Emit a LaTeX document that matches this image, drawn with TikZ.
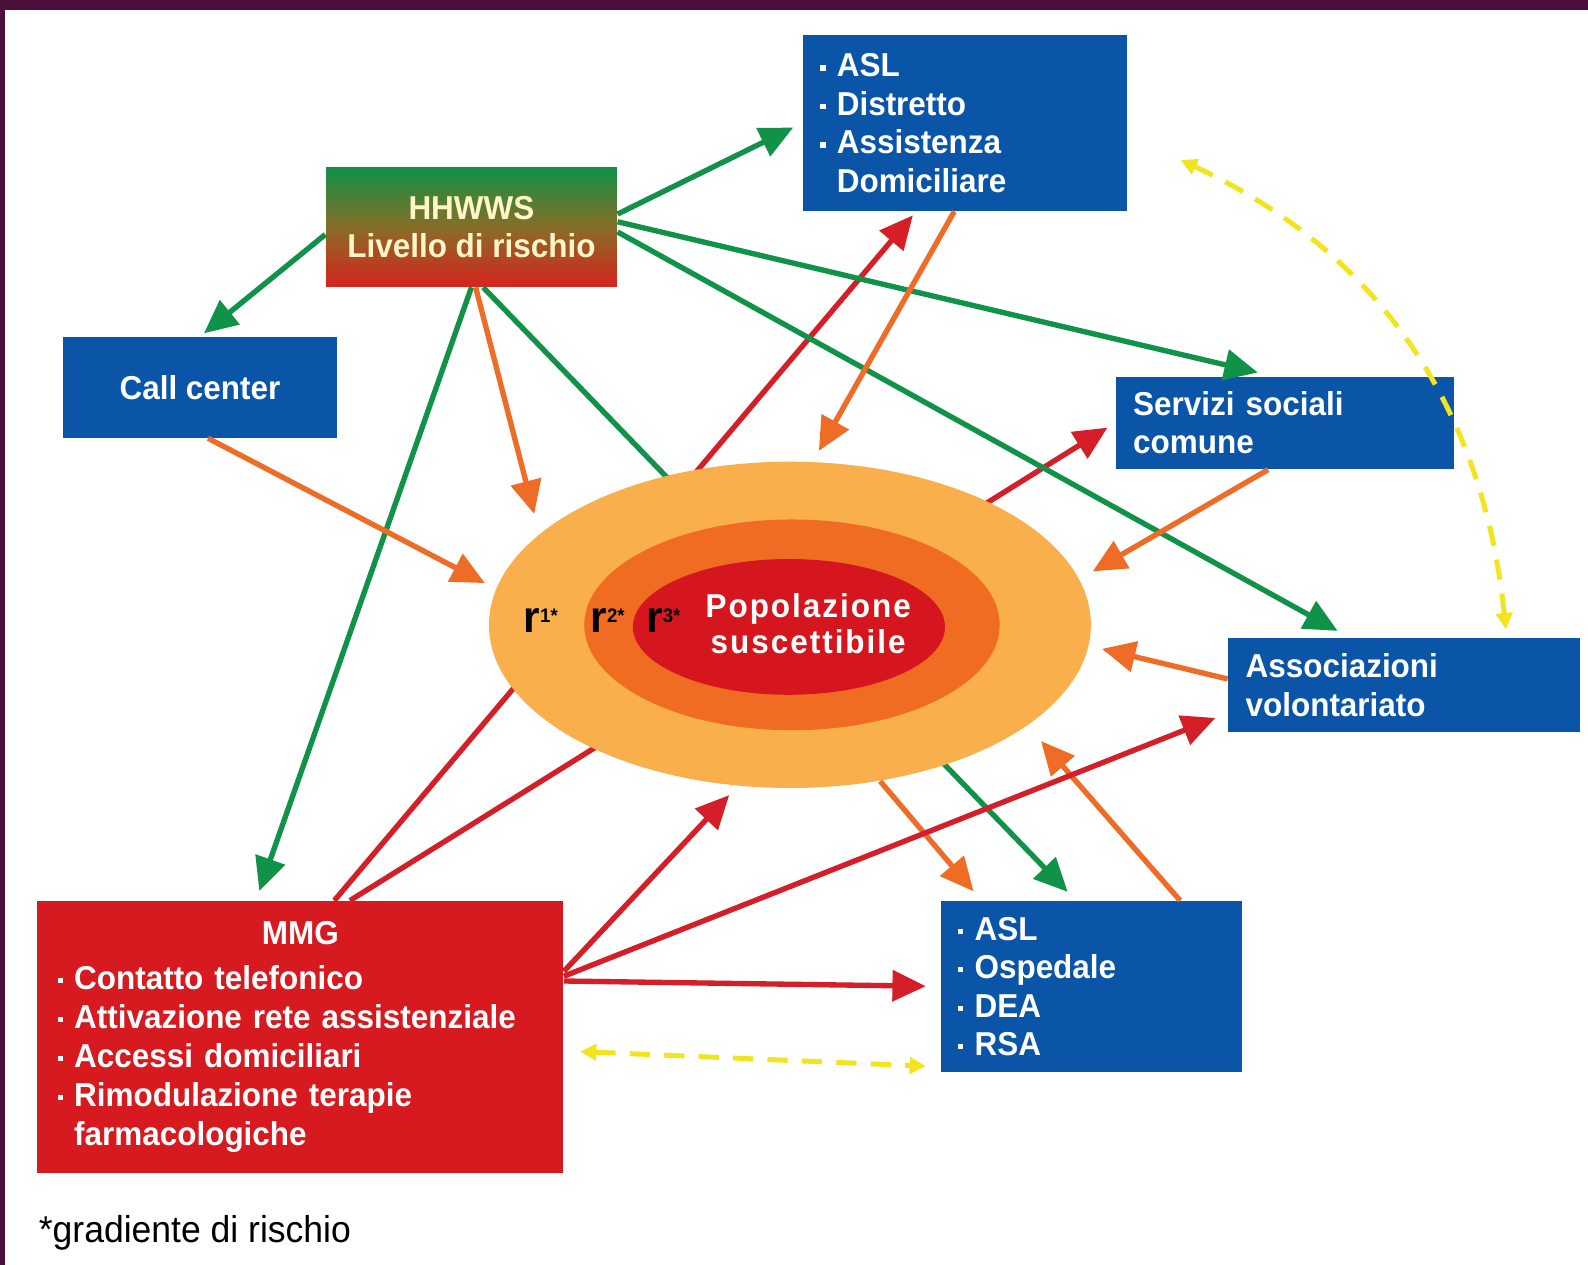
\documentclass[tikz,border=0pt]{standalone}
\usepackage{fontspec}
\setmainfont[FakeStretch=0.95]{Liberation Sans}
\newfontfamily\popfont[LetterSpace=6,FakeStretch=0.95]{Liberation Sans}
\usetikzlibrary{arrows.meta,shapes.geometric}

\definecolor{boxblue}{RGB}{10,85,168}
\definecolor{mmgred}{RGB}{215,25,32}
\definecolor{ggreen}{RGB}{16,146,72}
\definecolor{aorange}{RGB}{238,108,38}
\definecolor{ared}{RGB}{212,30,40}
\definecolor{popouter}{RGB}{249,175,75}
\definecolor{popmid}{RGB}{240,108,34}
\definecolor{popinner}{RGB}{214,22,30}
\definecolor{dashyellow}{RGB}{242,228,30}
\definecolor{framepurple}{RGB}{74,15,58}
\definecolor{hhgreen}{RGB}{15,145,70}
\definecolor{hhmid}{RGB}{135,110,40}
\definecolor{hhred}{RGB}{215,35,30}
\definecolor{hhtext}{RGB}{255,246,200}

\newcommand{\sq}{\makebox[0.5em][l]{\rule[0.35ex]{0.16em}{0.16em}}}

\begin{document}
\begin{tikzpicture}[x=0.01cm,y=-0.01cm]
\tikzset{
  infobox/.style={rectangle,fill=boxblue,text=white,inner xsep=0.17cm,inner ysep=0pt,align=left,font=\bfseries\fontsize{9.3}{10.8}\selectfont},
  riskbox/.style={infobox,top color=hhgreen,bottom color=hhred,middle color=hhmid,text=hhtext,align=center},
  popring/.style={ellipse,inner sep=0pt},
  rlabel/.style={anchor=base,font=\bfseries\fontsize{12.5}{12.5}\selectfont},
  greenarrow/.style={-{Triangle[length=3.3mm,width=3mm]},line width=1.5pt,draw=ggreen},
  orangearrow/.style={-{Triangle[length=3.3mm,width=3mm]},line width=1.5pt,draw=aorange},
  redarrow/.style={-{Triangle[length=3.3mm,width=3mm]},line width=1.5pt,draw=ared},
  linkdash/.style={{Triangle[length=1.6mm,width=1.6mm]}-{Triangle[length=1.6mm,width=1.6mm]},line width=1.4pt,draw=dashyellow,dash pattern=on 2mm off 1.4mm}
}
\useasboundingbox (0,0) rectangle (1568,1249);
\fill[white] (0,0) rectangle (1568,1249);
\fill[framepurple] (0,0) rectangle (1568,10);
\fill[framepurple] (0,0) rectangle (5,1249);

\node[riskbox,minimum width=2.87cm,minimum height=1.18cm] (n_hhwws) at (465.5,224) {HHWWS\\Livello di rischio};
\node[infobox,align=center,minimum width=2.71cm,minimum height=0.99cm] (n_callc) at (197.5,382.5) {Call center};
\node[infobox,text width=2.86cm,minimum height=1.73cm] (n_asl_top) at (953,121.5) {\sq ASL\\\sq Distretto\\\sq Assistenza\\\hspace*{0.5em}Domiciliare};
\node[infobox,text width=3.00cm,minimum height=0.91cm] (n_serv) at (1269,417.5) {Servizi sociali\\comune};
\node[infobox,text width=3.13cm,minimum height=0.93cm] (n_assoc) at (1386.5,676.5) {Associazioni\\volontariato};
\node[infobox,text width=2.63cm,minimum height=1.68cm] (n_asl_bot) at (1077.5,974) {\sq ASL\\\sq Ospedale\\\sq DEA\\\sq RSA};
\node[infobox,fill=mmgred,inner xsep=0.2cm,text width=4.79cm,minimum height=2.68cm,font=\bfseries\fontsize{9.3}{11}\selectfont] (n_mmg) at (296.5,1024) {\hfill MMG\hfill\null\\[1.5pt]\sq Contatto telefonico\\\sq Attivazione rete assistenziale\\\sq Accessi domiciliari\\\sq Rimodulazione terapie\\\hspace*{0.5em}farmacologiche};

\draw[greenarrow,shorten >=0.12cm] (n_hhwws.-79) -- (n_asl_bot.100);
\draw[redarrow,shorten >=0.05cm] (n_mmg.76) -- (n_asl_top.-119);
\draw[redarrow,shorten >=0.09cm] (n_mmg.70) -- (n_serv.west);

\node[popring,fill=popouter,minimum width=5.94cm,minimum height=3.22cm] (n_pop) at (780,617) {};
\node[popring,fill=popmid,minimum width=4.10cm,minimum height=2.08cm] (n_pop_mid) at (782,617) {};
\node[popring,fill=popinner,minimum width=3.08cm,minimum height=1.34cm] (n_pop_in) at (779,619) {};
\node[font=\popfont\bfseries\fontsize{9.3}{10}\selectfont,text=white,align=center] (n_pop_txt) at (798,616) {Popolazione\\suscettibile};
\node[rlabel] (n_r1) at (534,625) {r\raisebox{2.8pt}{\fontsize{5.5}{6}\selectfont 1*}};
\node[rlabel] (n_r2) at (600,625) {r\raisebox{2.8pt}{\fontsize{5.5}{6}\selectfont 2*}};
\node[rlabel] (n_r3) at (655,625) {r\raisebox{2.8pt}{\fontsize{5.5}{6}\selectfont 3*}};

\draw[greenarrow,shorten >=0.05cm] (n_hhwws.183) -- (n_callc.north);
\draw[greenarrow,shorten >=0.1cm] (n_hhwws.5) -- (n_asl_top.west);
\draw[greenarrow,shorten >=0.15cm] (n_hhwws.2) -- (n_serv.105);
\draw[greenarrow,shorten >=0.13cm] (n_hhwws.-2) -- (n_assoc.139);
\draw[greenarrow,shorten >=0.1cm] (n_hhwws.south) -- (n_mmg.108);

\draw[orangearrow,shorten >=0.2cm] (n_hhwws.-86) -- (n_pop.160);
\draw[orangearrow,shorten >=0.12cm] (n_callc.-81) -- (n_pop.173);
\draw[orangearrow,shorten >=0.12cm] (n_asl_top.-97) -- (n_pop.82);
\draw[orangearrow,shorten >=0.15cm] (n_serv.-110) -- (n_pop.9);
\draw[orangearrow,shorten >=0.13cm] (n_assoc.178) -- (n_pop.-4);
\draw[orangearrow,shorten >=0.2cm] (n_asl_bot.44) -- (n_pop.-23);
\draw[orangearrow,shorten >=0.12cm] (n_pop.-60) -- (n_asl_bot.142);

\draw[redarrow,shorten >=0.12cm] (n_mmg.14) -- (n_pop.-108);
\draw[redarrow,shorten >=0.13cm] (n_mmg.13) -- (n_assoc.189);
\draw[redarrow,shorten >=0.14cm] (n_mmg.12) -- (n_asl_bot.west);

\draw[linkdash,shorten >=0.08cm] ([shift={(52,36.5)}]n_asl_top.east) to[out=-25,in=96] (n_assoc.25);
\draw[linkdash,shorten <=0.16cm,shorten >=0.14cm] (n_mmg.-3) -- (n_asl_bot.208);

\node[anchor=base west,font=\fontsize{10.5}{12}\selectfont] (n_note) at (26,1227) {*gradiente di rischio};
\end{tikzpicture}
\end{document}
